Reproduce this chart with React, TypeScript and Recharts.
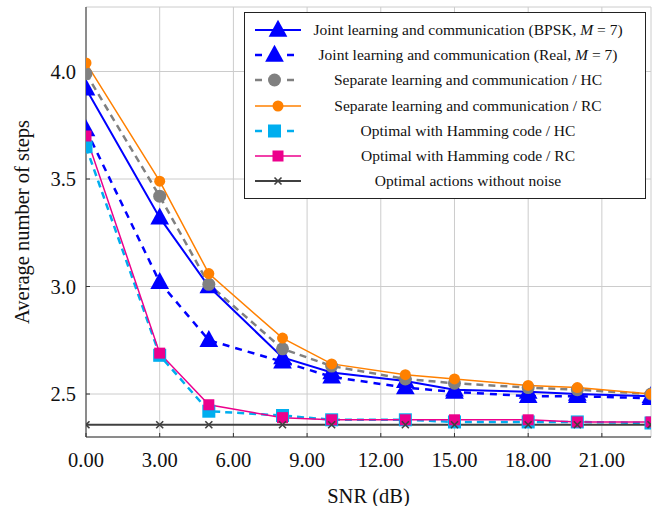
import React from "react";
import { CartesianGrid, Line, LineChart, XAxis, YAxis } from "recharts";

const snr = [0, 3, 5, 8, 10, 13, 15, 18, 20, 23];
const jointBpsk = [3.92, 3.32, 3.0, 2.67, 2.6, 2.56, 2.52, 2.51, 2.5, 2.49];
const jointReal = [3.73, 3.02, 2.75, 2.65, 2.58, 2.53, 2.51, 2.49, 2.49, 2.48];
const separateHc = [3.99, 3.42, 3.01, 2.71, 2.63, 2.57, 2.55, 2.53, 2.52, 2.5];
const separateRc = [4.04, 3.49, 3.06, 2.76, 2.64, 2.59, 2.57, 2.54, 2.53, 2.5];
const hammingHc = [3.65, 2.68, 2.42, 2.4, 2.38, 2.38, 2.37, 2.37, 2.37, 2.365];
const hammingRc = [3.7, 2.69, 2.45, 2.39, 2.38, 2.38, 2.38, 2.38, 2.37, 2.37];
const noNoise = [2.357, 2.357, 2.357, 2.357, 2.357, 2.357, 2.357, 2.357, 2.357, 2.357];

const xTicks = [0, 3, 6, 9, 12, 15, 18, 21];
const yTicks = [2.5, 3.0, 3.5, 4.0];

const data = snr.map((x, i) => ({
  snr: x,
  jointBpsk: jointBpsk[i],
  jointReal: jointReal[i],
  separateHc: separateHc[i],
  separateRc: separateRc[i],
  hammingHc: hammingHc[i],
  hammingRc: hammingRc[i],
  noNoise: noNoise[i],
}));

const FONT = "Liberation Serif, Times New Roman, DejaVu Serif, serif";

type Mark = "tri" | "circle" | "square" | "cross";

function Marker({ kind, cx, cy, color, size }: { kind: Mark; cx: number; cy: number; color: string; size: number }) {
  if (kind === "tri") {
    const h = size;
    return (
      <polygon
        points={`${cx},${cy - h * 0.6} ${cx - h * 0.55},${cy + h * 0.4} ${cx + h * 0.55},${cy + h * 0.4}`}
        fill={color}
      />
    );
  }
  if (kind === "circle") return <circle cx={cx} cy={cy} r={size / 2} fill={color} />;
  if (kind === "square")
    return <rect x={cx - size / 2} y={cy - size / 2} width={size} height={size} fill={color} />;
  const s = size / 2;
  return (
    <g stroke={color} strokeWidth={1.6}>
      <line x1={cx - s} y1={cy - s} x2={cx + s} y2={cy + s} />
      <line x1={cx - s} y1={cy + s} x2={cx + s} y2={cy - s} />
    </g>
  );
}

const series = [
  { key: "jointBpsk", label: "bpsk", color: "#0000ff", width: 2, dash: undefined, mark: "tri" as Mark, size: 17 },
  { key: "jointReal", label: "real", color: "#0000ff", width: 2.5, dash: "7 6", mark: "tri" as Mark, size: 17 },
  { key: "separateHc", label: "Separate learning and communication / HC", color: "#808080", width: 2.5, dash: "7 5", mark: "circle" as Mark, size: 13 },
  { key: "separateRc", label: "Separate learning and communication / RC", color: "#ff8000", width: 1.5, dash: undefined, mark: "circle" as Mark, size: 11 },
  { key: "hammingHc", label: "Optimal with Hamming code / HC", color: "#00aeef", width: 2.5, dash: "7 5", mark: "square" as Mark, size: 13 },
  { key: "hammingRc", label: "Optimal with Hamming code / RC", color: "#ec008c", width: 1.5, dash: undefined, mark: "square" as Mark, size: 11 },
  { key: "noNoise", label: "Optimal actions without noise", color: "#404040", width: 2, dash: undefined, mark: "cross" as Mark, size: 7 },
];

function LegendLabel({ label }: { label: string }) {
  if (label === "bpsk")
    return (
      <span>
        Joint learning and communication (BPSK, <i>M</i> = 7)
      </span>
    );
  if (label === "real")
    return (
      <span>
        Joint learning and communication (Real, <i>M</i> = 7)
      </span>
    );
  return <span>{label}</span>;
}

function ChartLegend() {
  return (
    <div
      style={{
        position: "absolute",
        left: 244,
        top: 12,
        width: 402,
        height: 187,
        border: "1px solid #222",
        background: "#fff",
        fontFamily: FONT,
        fontSize: 15.5,
        color: "#111",
        boxSizing: "border-box",
        paddingTop: 4,
      }}
    >
      {series.map((s) => (
        <div key={s.key} style={{ display: "flex", alignItems: "center", height: 25.3 }}>
          <svg width={50} height={22} style={{ marginLeft: 8, flexShrink: 0 }}>
            {s.dash ? (
              <g stroke={s.color} strokeWidth={s.width}>
                <line x1={2} y1={11} x2={9} y2={11} />
                <line x1={34} y1={11} x2={41} y2={11} />
              </g>
            ) : (
              <line x1={2} y1={11} x2={48} y2={11} stroke={s.color} strokeWidth={s.width} />
            )}
            <Marker kind={s.mark} cx={s.dash ? 21.5 : 25} cy={11} color={s.color} size={s.size} />
          </svg>
          <div style={{ flex: 1, textAlign: "center", paddingRight: 12, whiteSpace: "nowrap" }}>
            <LegendLabel label={s.label} />
          </div>
        </div>
      ))}
    </div>
  );
}

const tickStyle = { fontFamily: FONT, fontSize: 20.5, fill: "#111" };

export default function App() {
  return (
    <div style={{ position: "absolute", left: 0, top: 0, width: 654, height: 506, background: "#fff", fontFamily: FONT }}>
      <LineChart
        width={654}
        height={506}
        data={data}
        margin={{ top: 7, right: 3, left: 0, bottom: 0 }}
        style={{ fontFamily: FONT }}
      >
        <CartesianGrid stroke="#cccccc" strokeWidth={1} />
        <XAxis
          dataKey="snr"
          type="number"
          domain={[0, 23]}
          ticks={xTicks}
          allowDataOverflow
          tickFormatter={(v: number) => v.toFixed(2)}
          height={69}
          stroke="#333"
          tickSize={-4}
          tickMargin={19}
          tick={tickStyle}
          label={{
            value: "SNR (dB)",
            position: "insideBottom",
            offset: 3,
            style: tickStyle,
          }}
        />
        <XAxis
          xAxisId="top"
          orientation="top"
          dataKey="snr"
          type="number"
          domain={[0, 23]}
          ticks={xTicks}
          height={0}
          stroke="#333"
          tickSize={-4}
          tick={false}
        />
        <YAxis
          type="number"
          domain={[2.3, 4.3]}
          ticks={yTicks}
          allowDataOverflow
          tickFormatter={(v: number) => v.toFixed(1)}
          width={86}
          stroke="#333"
          tickSize={-4}
          tickMargin={14}
          tick={tickStyle}
          label={{
            value: "Average number of steps",
            angle: -90,
            position: "insideLeft",
            offset: 22,
            style: { ...tickStyle, textAnchor: "middle" },
          }}
        />
        <YAxis
          yAxisId="right"
          orientation="right"
          type="number"
          domain={[2.3, 4.3]}
          ticks={yTicks}
          width={0}
          stroke="#333"
          tickSize={-4}
          tick={false}
        />
        {series.map((s) => (
          <Line
            key={s.key}
            dataKey={s.key}
            type="linear"
            stroke={s.color}
            strokeWidth={s.width}
            strokeDasharray={s.dash}
            isAnimationActive={false}
            activeDot={false}
            dot={(p: any) => (
              <Marker key={`${s.key}-${p.index}`} kind={s.mark} cx={p.cx} cy={p.cy} color={s.color} size={s.size} />
            )}
          />
        ))}
      </LineChart>
      <ChartLegend />
    </div>
  );
}
